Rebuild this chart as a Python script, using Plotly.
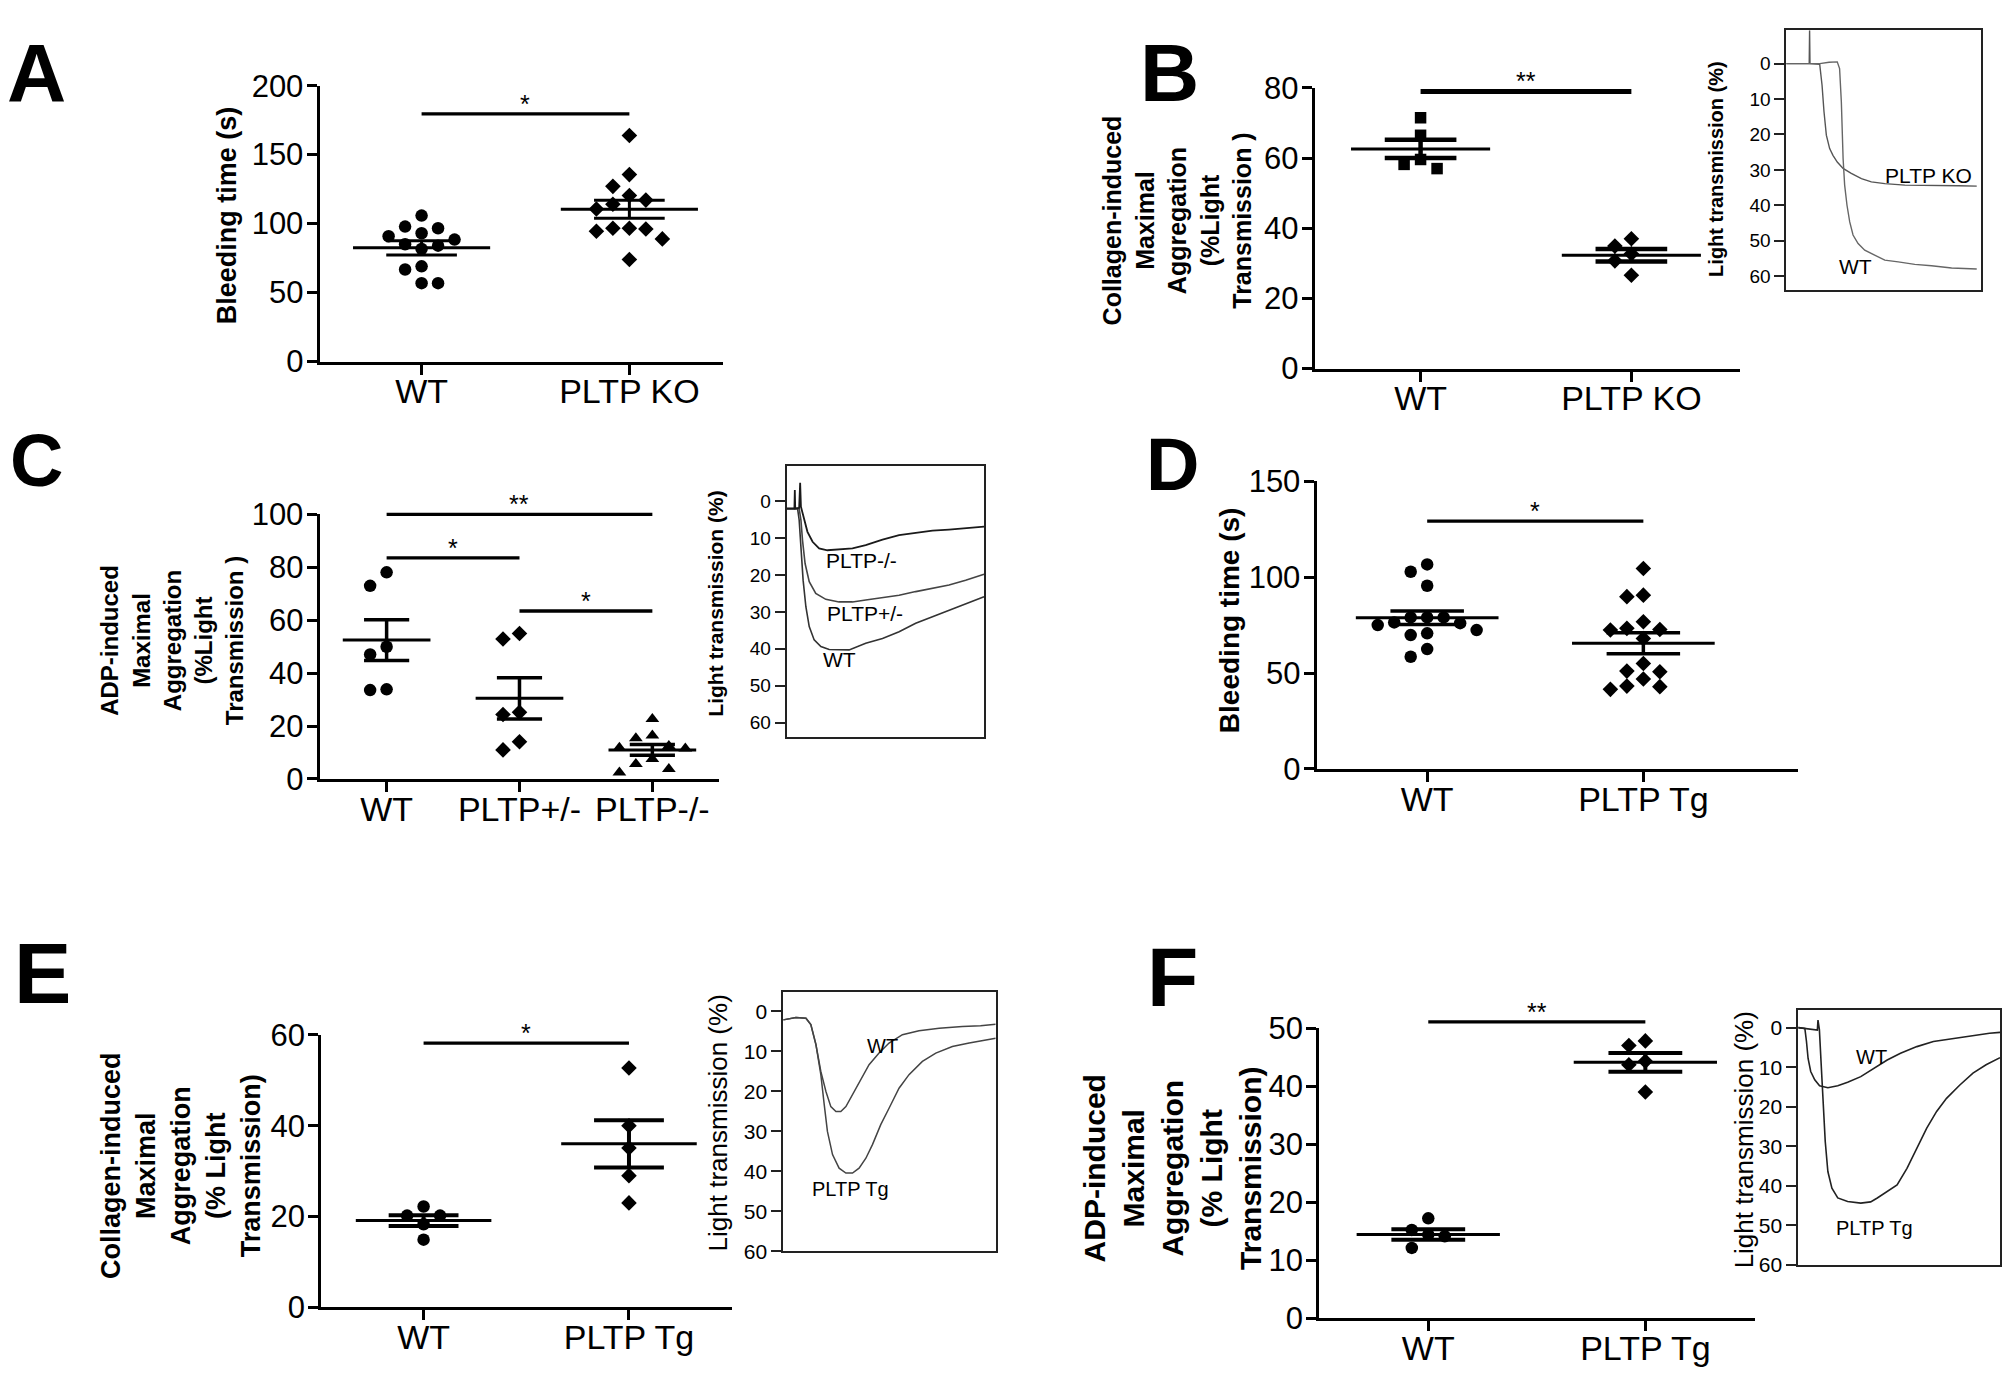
import numpy as np
import plotly.graph_objects as go

# Page geometry: the page adds an 8px margin plus a blank line above the plot div and the
# photo is scaled to the window, so screen y = KY * (TOP + figure y), screen x = OX + figure x.
FW, FH = 1994, 1373
OX, TOP, KY = 8, 27, 0.975
FONT = "Liberation Sans, Arial, Helvetica, sans-serif"

# ======================= DATA =======================
# Panel A - bleeding time (s), WT vs PLTP KO
A_groups = ["WT", "PLTP KO"]
A_wt = [105.8, 97.8, 96.6, 93.0, 90.8, 88.4, 85.0, 84.0, 81.6, 69.0, 66.7, 56.8, 56.8]
A_ko = [163.8, 135.5, 127.0, 120.3, 117.0, 114.0, 110.6, 96.6, 96.6, 96.1, 94.4, 88.9, 73.9]
A_mean = [82.4, 110.4]
A_sem = [5.1, 6.5]
A_yticks = [0, 50, 100, 150, 200]
A_sig = [(0, 1, 179.5, "*")]

# Panel B - collagen-induced maximal aggregation (%), WT vs PLTP KO
B_groups = ["WT", "PLTP KO"]
B_wt = [71.5, 66.5, 59.6, 58.2, 57.0]
B_ko = [37.0, 34.9, 32.7, 30.7, 26.6]
B_mean = [62.6, 32.3]
B_sem = [2.6, 1.8]
B_yticks = [0, 20, 40, 60, 80]
B_sig = [(0, 1, 79.0, "**")]

# Panel C - ADP-induced maximal aggregation (%)
C_groups = ["WT", "PLTP+/-", "PLTP-/-"]
C_wt = [78.1, 73.0, 50.0, 47.1, 33.9, 33.6]
C_het = [55.0, 52.9, 25.2, 24.4, 14.1, 11.0]
C_ko = [22.7, 16.4, 15.4, 12.5, 11.8, 11.5, 7.6, 5.7, 3.8, 2.5]
C_mean = [52.5, 30.5, 11.0]
C_sem = [7.7, 7.8, 2.0]
C_yticks = [0, 20, 40, 60, 80, 100]
C_sig = [(0, 2, 100.0, "**"), (0, 1, 83.6, "*"), (1, 2, 63.5, "*")]

# Panel D - bleeding time (s), WT vs PLTP Tg
D_groups = ["WT", "PLTP Tg"]
D_wt = [106.6, 102.8, 95.5, 79.0, 79.0, 79.0, 76.4, 76.0, 75.0, 72.4, 70.7, 69.8, 62.5, 58.5]
D_tg = [104.5, 90.6, 89.8, 76.7, 73.3, 72.7, 72.4, 68.0, 55.0, 51.0, 50.7, 46.9, 43.2, 42.9, 41.5]
D_mean = [78.8, 65.5]
D_sem = [3.5, 5.5]
D_yticks = [0, 50, 100, 150]
D_sig = [(0, 1, 129.2, "*")]

# Panel E - collagen-induced maximal aggregation (%), WT vs PLTP Tg
E_groups = ["WT", "PLTP Tg"]
E_wt = [22.2, 20.2, 20.2, 18.3, 14.9]
E_tg = [52.7, 40.0, 35.1, 29.0, 23.0]
E_mean = [19.1, 36.0]
E_sem = [1.2, 5.2]
E_yticks = [0, 20, 40, 60]
E_sig = [(0, 1, 58.2, "*")]

# Panel F - ADP-induced maximal aggregation (%), WT vs PLTP Tg
F_groups = ["WT", "PLTP Tg"]
F_wt = [17.2, 15.2, 14.4, 14.1, 12.1]
F_tg = [47.8, 47.0, 44.3, 43.7, 39.0]
F_mean = [14.4, 44.1]
F_sem = [0.9, 1.6]
F_yticks = [0, 10, 20, 30, 40, 50]
F_sig = [(0, 1, 51.1, "**")]

# Inset traces: light transmission (%) vs time (0-100 = full trace width)
INSET_YTICKS = [0, 10, 20, 30, 40, 50, 60]
B_ko_t = [0, 11.1, 11.8, 12.0, 12.2, 17.2, 18.4, 19.4, 20.6, 22.3, 24.0, 26.2, 29.2, 33.4, 38.6, 43.7, 50.6, 60.9, 74.6, 88.3, 97.8]
B_ko_v = [0, 0, 0, -9.4, 0, 0.2, 6.1, 13.6, 20.2, 24.0, 25.9, 27.8, 29.6, 31.0, 32.5, 33.4, 33.9, 34.3, 34.3, 34.5, 34.6]
B_wt_t = [0, 17.2, 22.0, 24.0, 26.2, 27.4, 28.3, 29.2, 30.0, 31.2, 32.6, 34.3, 36.9, 40.3, 45.5, 50.6, 57.5, 66.0, 74.6, 84.9, 97.8]
B_wt_v = [0, 0, -0.4, -0.5, -0.5, 1.4, 10.8, 26.8, 34.3, 40.0, 44.7, 48.4, 50.8, 52.7, 54.1, 55.5, 56.0, 56.7, 57.1, 57.7, 58.0]

C_ko_t = [0, 3.0, 4.0, 4.2, 4.4, 6.4, 6.9, 7.3, 8.9, 10.6, 13.2, 16.5, 20.7, 26.6, 33.4, 40.1, 48.6, 57.0, 65.4, 73.9, 82.3, 90.7, 100]
C_ko_v = [2, 2, 2, -3, 2, 1.8, -5, 1.5, 5.1, 8.3, 11.0, 12.8, 13.3, 13.1, 12.8, 11.9, 10.4, 9.2, 8.6, 8.0, 7.7, 7.3, 6.9]
C_het_t = [0, 6.4, 7.3, 8.1, 9.4, 11.5, 14.8, 19.9, 26.6, 33.4, 40.1, 48.6, 57.0, 65.4, 73.9, 82.3, 90.7, 100]
C_het_v = [2, 2, 5.1, 10.6, 16.9, 21.8, 25.0, 26.6, 27.3, 27.3, 26.8, 26.1, 25.5, 24.5, 23.6, 22.7, 21.4, 19.8]
C_wt_t = [0, 5.6, 6.4, 7.3, 8.4, 9.8, 11.5, 14.0, 17.4, 21.6, 26.6, 31.7, 40.1, 48.6, 57.0, 65.4, 73.9, 82.3, 90.7, 100]
C_wt_v = [2, 2, 5.1, 12.4, 21.4, 28.6, 34.0, 37.6, 39.4, 40.2, 40.3, 40.3, 38.5, 37.2, 35.4, 33.1, 31.3, 29.5, 27.9, 25.9]

E_wt_t = [0, 6.0, 10.7, 13.0, 15.4, 17.7, 20.1, 22.4, 24.8, 27.1, 29.5, 32.6, 36.5, 40.4, 45.1, 49.8, 56.1, 63.9, 73.4, 84.3, 92.9, 100]
E_wt_v = [2.1, 1.5, 1.7, 3.3, 8.3, 15.0, 20.0, 23.8, 25.0, 25.0, 23.8, 20.8, 16.7, 13.3, 10.4, 7.9, 5.8, 4.8, 4.2, 3.75, 3.6, 3.2]
E_tg_t = [0, 6.0, 10.7, 13.0, 15.4, 17.7, 19.3, 20.8, 23.2, 26.3, 29.5, 32.6, 35.7, 38.9, 42.0, 45.9, 49.8, 54.5, 59.2, 65.5, 71.8, 79.6, 87.5, 93.7, 100]
E_tg_v = [2.1, 1.5, 1.7, 3.3, 8.3, 15.8, 23.3, 30.0, 35.8, 39.2, 40.4, 40.4, 39.2, 36.7, 33.3, 28.3, 24.2, 19.2, 15.8, 12.5, 10.4, 8.75, 7.9, 7.3, 6.7]

F_wt_t = [0, 3.3, 4.1, 4.9, 6.2, 8.2, 10.6, 14.7, 19.6, 24.5, 31.0, 37.6, 44.1, 50.7, 58.8, 67.0, 76.8, 86.6, 94.8, 100]
F_wt_v = [0, 0.2, 3.5, 7.8, 11.1, 13.2, 14.7, 15.2, 14.7, 13.8, 12.4, 10.3, 8.2, 6.5, 4.8, 3.5, 2.7, 2.0, 1.4, 1.2]
F_tg_t = [0, 3.3, 8.5, 9.5, 9.8, 10.5, 11.4, 12.3, 13.4, 14.7, 16.7, 19.6, 24.5, 31.0, 35.9, 39.2, 44.1, 49.0, 53.9, 58.8, 63.7, 68.6, 73.5, 80.1, 86.6, 93.1, 100]
F_tg_v = [0, 0.2, 0.6, 0.6, -1.9, 0.5, 9.4, 19.5, 28.8, 36.4, 40.6, 43.1, 44.0, 44.4, 44.1, 43.1, 41.4, 39.8, 35.6, 30.5, 25.4, 21.2, 17.9, 14.5, 11.5, 9.4, 7.6]

# ======================= LAYOUT HELPERS =======================
fig = go.Figure()
layout = dict(width=FW, height=FH, margin=dict(l=0, r=0, t=0, b=0),
              paper_bgcolor="white", plot_bgcolor="rgba(0,0,0,0)", showlegend=False,
              font=dict(family=FONT, color="black"))
annotations = []


def fig_px(py):
    """screen y (px) -> figure y (px from figure top)"""
    return py / KY - TOP


def fx_free(px):
    return (px - OX) / FW


def fy_free(py):
    return 1 - fig_px(py) / FH


def fx(px):
    return min(1.0, max(0.0, fx_free(px)))


def fy(py):
    return min(1.0, max(0.0, fy_free(py)))


def ids(n):
    s = "" if n == 1 else str(n)
    return "x" + s, "y" + s, "xaxis" + s, "yaxis" + s


def swarm(vals, ppu, d=16.5, thr=14.5):
    """simple beeswarm: horizontal pixel offsets so markers do not overlap"""
    order = np.argsort(-np.asarray(vals), kind="stable")
    placed = []
    offs = [0.0] * len(vals)
    cands = [0] + [s * j for j in range(1, 12) for s in (-1, 1)]
    for i in order:
        y = vals[i] * ppu
        xo = 0.0
        for c in cands:
            xo = c * d
            if all((xo - px) ** 2 + (y - py) ** 2 >= thr ** 2 for px, py in placed):
                break
        placed.append((xo, y))
        offs[i] = xo
    return offs


def dot_panel(n, geo, groups, series, markers, means, sems, yticks, ymax, sigs,
              sem_w=4, sig_w=3.3, ax_w=3.2):
    xr, yr, xa, ya = ids(n)
    x0, x1, c0, s, ytop, ybot = geo
    ppu = (ybot - ytop) / ymax
    layout[xa] = dict(domain=[fx(x0), fx(x1)], range=[(x0 - c0) / s, (x1 - c0) / s],
                      anchor=yr, tickmode="array", tickvals=list(range(len(groups))),
                      ticktext=groups, showline=True, linewidth=ax_w, linecolor="black",
                      ticks="outside", ticklen=10, tickwidth=ax_w, tickcolor="black",
                      showgrid=False, zeroline=False, ticklabelstandoff=-12,
                      tickfont=dict(size=34, family=FONT, color="black"))
    layout[ya] = dict(domain=[fy(ybot), fy(ytop)], range=[0, ymax], anchor=xr,
                      tickmode="array", tickvals=yticks, showline=True, linewidth=ax_w,
                      linecolor="black", ticks="outside", ticklen=10, tickwidth=ax_w,
                      tickcolor="black", showgrid=False, zeroline=False,
                      ticklabelstandoff=-3,
                      tickfont=dict(size=31, family=FONT, color="black"))
    # hidden companion y axis with the same scale but extended upward, for significance bars
    f_top, f_bot = fig_px(ytop), fig_px(ybot)
    f_ext = max(0.0, f_top - 70)
    sr = "y" + str(n + 20)
    layout["yaxis" + str(n + 20)] = dict(domain=[1 - f_bot / FH, 1 - f_ext / FH],
                                         range=[0, ymax * (f_bot - f_ext) / (f_bot - f_top)],
                                         anchor=xr, visible=False, showgrid=False,
                                         zeroline=False)
    for gi, (vals, (sym, size)) in enumerate(zip(series, markers)):
        offs = swarm(vals, ppu)
        xs = [gi + o / s for o in offs]
        fig.add_trace(go.Scatter(x=xs, y=vals, mode="markers", xaxis=xr, yaxis=yr,
                                 marker=dict(symbol=sym, size=size, color="black",
                                             line=dict(width=0)),
                                 cliponaxis=False, hoverinfo="skip"))
    for gi, (m, e) in enumerate(zip(means, sems)):
        fig.add_trace(go.Scatter(x=[gi - 0.33, gi + 0.33], y=[m, m], mode="lines",
                                 xaxis=xr, yaxis=yr, line=dict(color="black", width=3),
                                 hoverinfo="skip"))
        fig.add_trace(go.Scatter(x=[gi - 0.17, gi + 0.17, None, gi - 0.17, gi + 0.17, None, gi, gi],
                                 y=[m + e, m + e, None, m - e, m - e, None, m - e, m + e],
                                 mode="lines", xaxis=xr, yaxis=yr,
                                 line=dict(color="black", width=sem_w), hoverinfo="skip"))
    for (i, j, yv, txt) in sigs:
        fig.add_trace(go.Scatter(x=[i, j], y=[yv, yv], mode="lines", xaxis=xr, yaxis=sr,
                                 line=dict(color="black", width=sig_w), hoverinfo="skip",
                                 cliponaxis=False))
        annotations.append(dict(x=(i + j) / 2, y=yv, xref=xr, yref=sr, text=txt,
                                showarrow=False, yanchor="bottom", yshift=-6,
                                font=dict(size=25, family=FONT, color="black")))


def inset(n, box, ytop_val, ybot_val, curves, labels, tick_size, label_size):
    xr, yr, xa, ya = ids(n)
    bx0, bx1, by0, by1 = box
    layout[xa] = dict(domain=[fx(bx0), fx(bx1)], range=[0, 100], anchor=yr,
                      showline=True, mirror=True, linewidth=1.6, linecolor="#222",
                      ticks="", showticklabels=False, showgrid=False, zeroline=False)
    layout[ya] = dict(domain=[fy(by1), fy(by0)], range=[ybot_val, ytop_val], anchor=xr,
                      tickmode="array", tickvals=INSET_YTICKS, showline=True, mirror=True,
                      linewidth=1.6, linecolor="#222", ticks="outside", ticklen=10,
                      tickwidth=1.6, tickcolor="#222", showgrid=False, zeroline=False,
                      tickfont=dict(size=tick_size, family=FONT, color="black"))
    for (t, v, col, w) in curves:
        fig.add_trace(go.Scatter(x=t, y=v, mode="lines", xaxis=xr, yaxis=yr,
                                 line=dict(color=col, width=w), hoverinfo="skip"))
    for (tx, ty, txt) in labels:
        annotations.append(dict(x=tx, y=ty, xref=xr, yref=yr, text=txt, showarrow=False,
                                font=dict(size=label_size, family=FONT, color="black")))


# ======================= PANELS =======================
# geometry in screen px: (axis left, axis right, first category, px per category, top, bottom)
dot_panel(1, (320, 724, 422, 208, 87, 363), A_groups, [A_wt, A_ko],
          [("circle", 12.5), ("diamond", 12)], A_mean, A_sem, A_yticks, 200, A_sig,
          sem_w=3, sig_w=3.3)
dot_panel(2, (1316, 1742, 1422, 211, 89.3, 370), B_groups, [B_wt, B_ko],
          [("square", 11.5), ("diamond", 12)], B_mean, B_sem, B_yticks, 80, B_sig,
          sem_w=4.5, sig_w=5)
dot_panel(3, (320, 720, 387, 133, 516, 780.7), C_groups, [C_wt, C_het, C_ko],
          [("circle", 12.5), ("diamond", 12), ("triangle-up", 12)], C_mean, C_sem,
          C_yticks, 100, C_sig, sem_w=3.5)
dot_panel(4, (1318, 1800, 1428.6, 216.4, 482.7, 770.7), D_groups, [D_wt, D_tg],
          [("circle", 12.5), ("diamond", 12)], D_mean, D_sem, D_yticks, 150, D_sig,
          sem_w=3.5)
dot_panel(5, (321.5, 733, 424, 205.6, 1036.7, 1309.3), E_groups, [E_wt, E_tg],
          [("circle", 12.5), ("diamond", 12)], E_mean, E_sem, E_yticks, 60, E_sig,
          sem_w=4)
dot_panel(6, (1320.7, 1757, 1429.7, 217.3, 1030, 1320), F_groups, [F_wt, F_tg],
          [("circle", 12.5), ("diamond", 12)], F_mean, F_sem, F_yticks, 50, F_sig,
          sem_w=4)

inset(7, (1788, 1983, 31.7, 291.7), -9.4, 64,
      [(B_ko_t, B_ko_v, "#555555", 1.4), (B_wt_t, B_wt_v, "#666666", 1.4)],
      [(72.9, 31.5, "PLTP KO"), (35.5, 57.4, "WT")], 19, 21)
inset(8, (787.3, 985, 467.7, 739), -9.5, 64,
      [(C_wt_t, C_wt_v, "#333333", 1.6), (C_het_t, C_het_v, "#444444", 1.6),
       (C_ko_t, C_ko_v, "#1a1a1a", 1.8)],
      [(37.9, 16.0, "PLTP-/-"), (39.6, 30.4, "PLTP+/-"), (27.0, 43.0, "WT")], 19, 21)
inset(9, (784, 996.7, 994.3, 1253.3), -4.75, 60,
      [(E_wt_t, E_wt_v, "#444444", 1.5), (E_tg_t, E_tg_v, "#444444", 1.5)],
      [(46.7, 8.75, "WT"), (31.8, 44.3, "PLTP Tg")], 21, 20)
inset(10, (1800, 2002, 1011.7, 1266.7), -4.5, 60,
      [(F_wt_t, F_wt_v, "#222222", 1.6), (F_tg_t, F_tg_v, "#222222", 1.6)],
      [(36.3, 7.3, "WT"), (37.6, 50.7, "PLTP Tg")], 21, 20)


# ======================= TEXT =======================
def paper_text(px, py, text, size, bold=True, angle=0, yanchor="middle"):
    t = f"<b>{text}</b>" if bold else text
    annotations.append(dict(x=fx_free(px), y=min(1.0, fy_free(py)), xref="paper",
                            yref="paper", text=t, showarrow=False, textangle=angle,
                            xanchor="center", yanchor=yanchor, align="center",
                            font=dict(size=size, family=FONT, color="black")))


# panel letters (A and B sit at the very top edge of the page)
paper_text(37, 0, "A", 82, yanchor="top")
paper_text(1171, 0, "B", 82, yanchor="top")
paper_text(37, 462.5, "C", 74)
paper_text(1174, 466, "D", 74)
paper_text(43, 975, "E", 86)
paper_text(1174, 979, "F", 84)

# y-axis titles
paper_text(227, 217, "Bleeding time (s)", 27, angle=-90)
paper_text(1178, 222, "Collagen-induced<br>Maximal<br>Aggregation<br>(%Light<br>Transmission )", 25, angle=-90)
paper_text(173, 642, "ADP-induced<br>Maximal<br>Aggregation<br>(%Light<br>Transmission )", 24, angle=-90)
paper_text(1231, 622, "Bleeding time (s)", 28, angle=-90)
paper_text(181, 1167, "Collagen-induced<br>Maximal<br>Aggregation<br>(% Light<br>Transmission)", 27, angle=-90)
paper_text(1173, 1170, "ADP-induced<br>Maximal<br>Aggregation<br>(% Light<br>Transmission)", 30, angle=-90)

# inset titles
paper_text(1717, 170, "Light transmission (%)", 20, angle=-90)
paper_text(716, 605, "Light transmission (%)", 21, angle=-90)
paper_text(719, 1125, "Light transmission (%)", 26, bold=False, angle=-90)
paper_text(1746, 1142, "Light transmission (%)", 26, bold=False, angle=-90)

layout["annotations"] = annotations
fig.update_layout(**layout)
fig.write_html("out.html")
